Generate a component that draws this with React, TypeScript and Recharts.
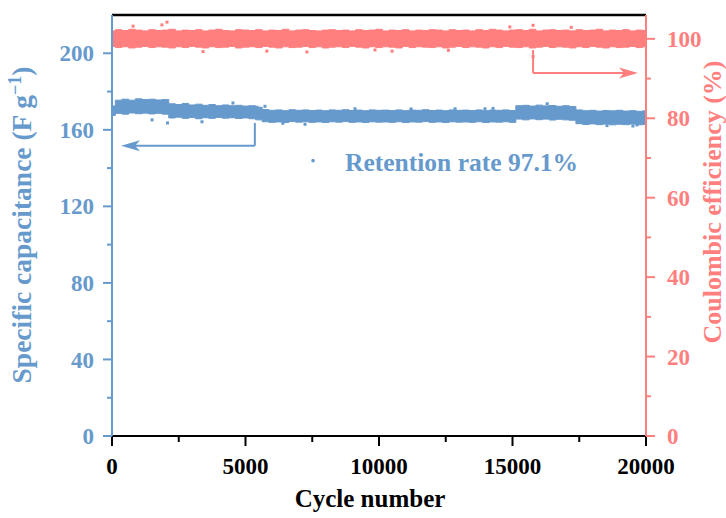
import {
  ComposedChart,
  Area,
  Scatter,
  XAxis,
  YAxis,
  ReferenceLine,
  ReferenceDot,
} from "recharts"

const BLUE = "#6699cc"
const RED = "#ff7f7f"
const FONT = "'Liberation Serif', 'Times New Roman', serif"

// cycle samples (every 250 cycles)
const cycles = [
  0, 250, 500, 750, 1000, 1250, 1500, 1750, 2000, 2250,
  2500, 2750, 3000, 3250, 3500, 3750, 4000, 4250, 4500, 4750,
  5000, 5250, 5500, 5750, 6000, 6250, 6500, 6750, 7000, 7250,
  7500, 7750, 8000, 8250, 8500, 8750, 9000, 9250, 9500, 9750,
  10000, 10250, 10500, 10750, 11000, 11250, 11500, 11750, 12000, 12250,
  12500, 12750, 13000, 13250, 13500, 13750, 14000, 14250, 14500, 14750,
  15000, 15250, 15500, 15750, 16000, 16250, 16500, 16750, 17000, 17250,
  17500, 17750, 18000, 18250, 18500, 18750, 19000, 19250, 19500, 19750,
  20000,
]

// specific capacitance band (F/g): top and bottom of the scatter cloud
const capHigh = [
  172.5, 175.5, 176.0, 175.5, 176.2, 175.8, 176.0, 175.6, 175.8, 173.6,
  173.2, 173.8, 173.0, 173.4, 172.8, 173.2, 172.6, 173.0, 172.6, 172.8,
  172.4, 172.6, 171.8, 170.6, 170.2, 170.4, 170.0, 170.5, 170.2, 170.4,
  170.1, 170.3, 170.0, 170.4, 170.2, 170.5, 170.1, 170.3, 170.0, 170.4,
  170.2, 170.3, 170.1, 170.4, 170.0, 170.3, 170.2, 170.5, 170.1, 170.3,
  170.0, 170.4, 170.2, 170.3, 170.1, 170.4, 170.0, 170.3, 170.2, 170.4,
  170.1, 172.6, 172.8, 172.4, 172.9, 172.5, 172.7, 172.3, 172.6, 172.2,
  170.4, 170.0, 170.2, 169.8, 170.1, 169.9, 170.2, 169.8, 170.0, 169.7,
  169.9,
]
const capLow = [
  167.5, 168.6, 168.2, 168.8, 168.4, 168.7, 168.3, 168.6, 168.2, 166.2,
  166.6, 166.0, 166.4, 165.8, 166.3, 166.0, 166.5, 166.1, 166.3, 165.9,
  166.2, 165.8, 165.2, 164.2, 163.9, 164.1, 163.8, 164.3, 164.0, 164.2,
  163.9, 164.1, 163.8, 164.2, 164.0, 164.3, 163.9, 164.1, 163.8, 164.2,
  164.0, 164.1, 163.9, 164.2, 163.8, 164.1, 164.0, 164.3, 163.9, 164.1,
  163.8, 164.2, 164.0, 164.1, 163.9, 164.2, 163.8, 164.1, 164.0, 164.2,
  163.9, 165.6, 165.2, 165.7, 165.3, 165.6, 165.1, 165.5, 165.2, 165.0,
  163.2, 162.8, 163.1, 162.7, 163.0, 162.6, 162.9, 162.7, 163.0, 162.6,
  162.8,
]

// coulombic efficiency band (%)
const ceHigh = [
  102.0, 102.3, 102.1, 102.4, 102.2, 102.0, 102.3, 102.1, 102.2, 102.4,
  102.0, 102.2, 102.1, 102.3, 102.0, 102.2, 102.4, 102.1, 102.0, 102.3,
  102.2, 102.1, 102.3, 102.0, 102.2, 102.1, 102.4, 102.0, 102.2, 102.3,
  102.1, 102.0, 102.2, 102.3, 102.1, 102.2, 102.0, 102.3, 102.1, 102.2,
  102.4, 102.0, 102.2, 102.1, 102.3, 102.0, 102.2, 102.1, 102.3, 102.2,
  102.0, 102.3, 102.1, 102.2, 102.0, 102.3, 102.1, 102.4, 102.2, 102.0,
  102.2, 102.3, 102.1, 102.4, 102.0, 102.2, 102.3, 102.1, 102.2, 102.0,
  102.3, 102.1, 102.2, 102.4, 102.0, 102.2, 102.1, 102.3, 102.0, 102.2,
  102.1,
]
const ceLow = [
  98.1, 97.8, 98.0, 97.7, 97.9, 98.1, 97.8, 98.0, 97.9, 97.7,
  98.0, 97.8, 98.1, 97.9, 97.7, 98.0, 97.8, 97.9, 98.1, 97.7,
  97.9, 98.0, 97.8, 98.1, 97.9, 97.7, 98.0, 97.8, 97.9, 98.1,
  97.8, 98.0, 97.7, 97.9, 98.0, 97.8, 98.1, 97.9, 97.7, 98.0,
  97.8, 98.0, 97.9, 97.7, 98.1, 97.8, 98.0, 97.9, 97.8, 98.0,
  97.7, 97.9, 98.1, 97.8, 98.0, 97.9, 97.7, 98.0, 97.8, 98.1,
  97.9, 97.8, 98.0, 97.7, 97.9, 98.1, 97.8, 98.0, 97.9, 97.7,
  98.0, 97.8, 98.1, 97.9, 97.7, 98.0, 97.8, 97.9, 98.1, 97.8,
  98.0,
]

// isolated points sticking out of the bands
const capOutCycles = [1500, 2080, 3370, 4530, 5430, 5730, 6400, 7230, 9100, 11200, 12850, 13970, 14270, 16300, 18540, 19510, 19660]
const capOutValues = [165.2, 163.6, 164.2, 174.0, 171.8, 172.3, 163.4, 162.9, 171.0, 170.9, 171.0, 171.0, 171.2, 173.6, 162.2, 162.0, 162.6]
const ceOutCycles = [790, 1870, 2060, 3410, 5800, 7300, 9850, 10490, 12600, 14900, 15770, 15770, 17200]
const ceOutValues = [103.2, 103.5, 104.2, 96.8, 96.9, 96.7, 97.2, 96.9, 97.1, 103.0, 95.5, 103.4, 102.9]

const xTicks = [0, 2500, 5000, 7500, 10000, 12500, 15000, 17500, 20000]
const capTicks = [0, 20, 40, 60, 80, 100, 120, 140, 160, 180, 200]
const ceTicks = [0, 10, 20, 30, 40, 50, 60, 70, 80, 90, 100]

const rows = cycles.map((c, i) => ({
  cycle: c,
  cap: [capLow[i], capHigh[i]],
  ce: [ceLow[i], ceHigh[i]],
}))
const capOut = capOutCycles.map((c, i) => ({ cycle: c, capOut: capOutValues[i] }))
const ceOut = ceOutCycles.map((c, i) => ({ cycle: c, ceOut: ceOutValues[i] }))

const labelText = { fontFamily: FONT, fontWeight: "bold" as const }

function BottomTick({ x, y, payload }: any) {
  const major = payload.value % 5000 === 0
  return (
    <g>
      <line x1={x} x2={x} y1={y} y2={y + (major ? 10 : 6)} stroke="#000" strokeWidth={2} />
      {major && (
        <text x={x} y={y + 38} textAnchor="middle" fontSize={23} fill="#000" {...labelText}>
          {payload.value}
        </text>
      )}
    </g>
  )
}

function LeftTick({ x, y, payload }: any) {
  const major = payload.value % 40 === 0
  return (
    <g>
      <line x1={x - (major ? 9 : 5)} x2={x} y1={y} y2={y} stroke={BLUE} strokeWidth={2} />
      {major && (
        <text x={x - 18} y={y} dy="0.35em" textAnchor="end" fontSize={23} fill={BLUE} {...labelText}>
          {payload.value}
        </text>
      )}
    </g>
  )
}

function RightTick({ x, y, payload }: any) {
  const major = payload.value % 20 === 0
  return (
    <g>
      <line x1={x} x2={x + (major ? 9 : 5)} y1={y} y2={y} stroke={RED} strokeWidth={2} />
      {major && (
        <text x={x + 21} y={y} dy="0.35em" textAnchor="start" fontSize={23} fill={RED} {...labelText}>
          {payload.value}
        </text>
      )}
    </g>
  )
}

const square = (color: string) => (p: any) =>
  <rect x={p.cx - 1.5} y={p.cy - 1.5} width={3} height={3} fill={color} />

export default function App() {
  return (
    <div style={{ position: "absolute", left: 0, top: 0, background: "#fff" }}>
      <ComposedChart
        width={726}
        height={518}
        data={rows}
        margin={{ top: 15, right: 0, bottom: 0, left: 0 }}
      >
        <XAxis
          dataKey="cycle"
          type="number"
          domain={[0, 20000]}
          ticks={xTicks}
          interval={0}
          height={82}
          tickSize={0}
          tickMargin={0}
          tickLine={false}
          axisLine={{ stroke: "#000", strokeWidth: 2 }}
          tick={<BottomTick />}
          label={{
            content: () => (
              <text x={370} y={507} textAnchor="middle" fontSize={25} fill="#000" {...labelText}>
                Cycle number
              </text>
            ),
          }}
        />
        <YAxis
          yAxisId="left"
          orientation="left"
          type="number"
          domain={[0, 220]}
          ticks={capTicks}
          interval={0}
          width={112}
          tickSize={0}
          tickMargin={0}
          tickLine={false}
          axisLine={{ stroke: BLUE, strokeWidth: 2 }}
          tick={<LeftTick />}
          label={{
            content: () => (
              <text
                transform="translate(31,225) rotate(-90)"
                textAnchor="middle"
                fontSize={27.5}
                fill={BLUE}
                {...labelText}
              >
                Specific capacitance (F g
                <tspan dy={-10} fontSize={18}>−1</tspan>
                <tspan dy={10}>)</tspan>
              </text>
            ),
          }}
        />
        <YAxis
          yAxisId="right"
          orientation="right"
          type="number"
          domain={[0, 106]}
          ticks={ceTicks}
          interval={0}
          width={80}
          tickSize={0}
          tickMargin={0}
          tickLine={false}
          axisLine={{ stroke: RED, strokeWidth: 2 }}
          tick={<RightTick />}
          label={{
            content: () => (
              <text
                transform="translate(712,202) rotate(-90)"
                dy="0.35em"
                textAnchor="middle"
                fontSize={26}
                fill={RED}
                {...labelText}
              >
                Coulombic efficiency (%)
              </text>
            ),
          }}
        />

        {/* frame top edge */}
        <ReferenceLine yAxisId="left" y={220} stroke="#000" strokeWidth={2.5} />

        <Area
          yAxisId="right"
          type="step"
          dataKey="ce"
          stroke={RED}
          strokeWidth={1}
          fill={RED}
          fillOpacity={1}
          dot={false}
          activeDot={false}
          isAnimationActive={false}
        />
        <Area
          yAxisId="left"
          type="step"
          dataKey="cap"
          stroke={BLUE}
          strokeWidth={1}
          fill={BLUE}
          fillOpacity={1}
          dot={false}
          activeDot={false}
          isAnimationActive={false}
        />
        <Scatter yAxisId="right" data={ceOut} dataKey="ceOut" shape={square(RED)} isAnimationActive={false} />
        <Scatter yAxisId="left" data={capOut} dataKey="capOut" shape={square(BLUE)} isAnimationActive={false} />

        {/* arrow pointing at the capacitance axis */}
        <ReferenceLine yAxisId="left" segment={[{ x: 5350, y: 163.6 }, { x: 5350, y: 151.7 }]} stroke={BLUE} strokeWidth={2} />
        <ReferenceLine yAxisId="left" segment={[{ x: 5350, y: 151.7 }, { x: 700, y: 151.7 }]} stroke={BLUE} strokeWidth={2} />
        <ReferenceDot
          yAxisId="left"
          x={340}
          y={151.7}
          r={1}
          shape={(p: any) => (
            <path d={`M${p.cx},${p.cy} L${p.cx + 19},${p.cy - 5.5} L${p.cx + 14},${p.cy} L${p.cx + 19},${p.cy + 5.5} Z`} fill={BLUE} />
          )}
        />

        {/* arrow pointing at the efficiency axis */}
        <ReferenceLine yAxisId="right" segment={[{ x: 15770, y: 97.2 }, { x: 15770, y: 91.4 }]} stroke={RED} strokeWidth={2} />
        <ReferenceLine yAxisId="right" segment={[{ x: 15770, y: 91.4 }, { x: 19400, y: 91.4 }]} stroke={RED} strokeWidth={2} />
        <ReferenceDot
          yAxisId="right"
          x={19700}
          y={91.4}
          r={1}
          shape={(p: any) => (
            <path d={`M${p.cx},${p.cy} L${p.cx - 19},${p.cy - 5.5} L${p.cx - 14},${p.cy} L${p.cx - 19},${p.cy + 5.5} Z`} fill={RED} />
          )}
        />

        {/* retention annotation */}
        <ReferenceDot
          yAxisId="left"
          x={7530}
          y={143.9}
          r={1.8}
          fill={BLUE}
          stroke="none"
          label={{
            content: (p: any) => {
              const vb = p.viewBox || { x: 313, y: 161, width: 0, height: 0 }
              const cx = vb.x + vb.width / 2
              const cy = vb.y + vb.height / 2
              return (
                <text x={cx + 32} y={cy + 10} fontSize={25.5} fill={BLUE} {...labelText}>
                  Retention rate 97.1%
                </text>
              )
            },
          }}
        />
      </ComposedChart>
    </div>
  )
}
